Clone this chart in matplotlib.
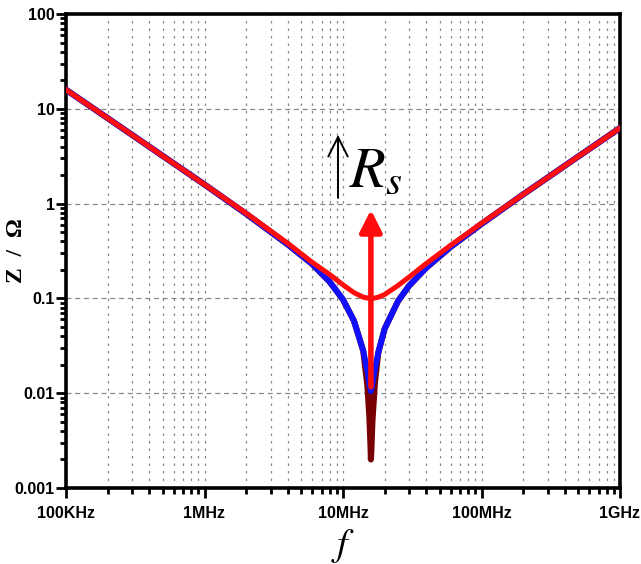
import matplotlib
matplotlib.use('Agg')
import matplotlib.pyplot as plt

# frequency points (Hz) and impedance magnitudes (ohm)
freq = [1e5, 2e5, 5e5, 1e6, 2e6, 4e6, 6e6, 8e6, 1e7, 1.2e7, 1.4e7, 1.5e7, 1.55e7,
        1.58e7, 1.59e7, 1.6e7, 1.63e7, 1.7e7, 1.8e7, 2e7, 2.5e7, 3e7, 4e7, 6e7,
        1e8, 2e8, 5e8, 1e9]
z_red = [15.9, 7.96, 3.18, 1.59, 0.79, 0.38, 0.24, 0.179, 0.139, 0.115, 0.103, 0.101, 0.100,
         0.100, 0.100, 0.100, 0.100, 0.101, 0.103, 0.110, 0.137, 0.168, 0.234, 0.364,
         0.62, 1.25, 3.14, 6.28]
z_blue = [15.9, 7.96, 3.18, 1.59, 0.78, 0.37, 0.23, 0.15, 0.097, 0.058, 0.028, 0.017, 0.0125,
          0.011, 0.0105, 0.011, 0.0125, 0.018, 0.027, 0.048, 0.094, 0.136, 0.211, 0.35,
          0.61, 1.25, 3.14, 6.28]
z_dark = [15.9, 7.96, 3.18, 1.59, 0.78, 0.37, 0.23, 0.15, 0.097, 0.058, 0.028, 0.012, 0.0057,
          0.0028, 0.002, 0.0024, 0.005, 0.013, 0.027, 0.048, 0.094, 0.136, 0.211, 0.35,
          0.61, 1.25, 3.14, 6.28]

rs_freq = 1.59e7
rs_lo, rs_hi = 0.0117, 0.86

xticks = [1e5, 1e6, 1e7, 1e8, 1e9]
xlabels = ['100KHz', '1MHz', '10MHz', '100MHz', '1GHz']
yticks = [1e-3, 1e-2, 1e-1, 1, 10, 100]
ylabels = ['0.001', '0.01', '0.1', '1', '10', '100']

plt.rcParams['mathtext.fontset'] = 'stix'
tickfont = 'Liberation Sans'

fig = plt.figure(figsize=(6.41, 5.64), dpi=100)
ax = fig.add_axes([66/641, 1-488/564, 554/641, 474/564])
ax.set_xscale('log')
ax.set_yscale('log')
ax.set_xlim(1e5, 1e9)
ax.set_ylim(1e-3, 100)

ax.plot(freq, z_dark, color='#780000', lw=4.4, zorder=3)
ax.plot(freq, z_blue, color='#1010ff', lw=4.2, zorder=4)
ax.plot(freq, z_red, color='#ff0d0d', lw=3.6, zorder=5)

ax.annotate('', xy=(rs_freq, rs_hi), xytext=(rs_freq, rs_lo),
            arrowprops=dict(arrowstyle='-|>,head_length=0.65,head_width=0.33',
                            mutation_scale=20, color='#ff0d0d', lw=4,
                            shrinkA=0, shrinkB=0), zorder=6)

# "↑ Rs" label
ax.annotate('', xy=(0.491, 0.745), xytext=(0.491, 0.612), xycoords='axes fraction',
            arrowprops=dict(arrowstyle='->,head_length=0.7,head_width=0.35',
                            mutation_scale=20, color='black', lw=1.4,
                            shrinkA=0, shrinkB=0))
ax.text(0.510, 0.635, r'$R_s$', transform=ax.transAxes, fontsize=42,
        ha='left', va='baseline')

ax.grid(which='major', axis='y', color='#888888', lw=0.9, linestyle=(0, (4, 3)))
ax.grid(which='both', axis='x', color='#888888', lw=0.9, linestyle=(0, (2, 4)))

ax.set_xticks(xticks)
ax.set_xticklabels(xlabels, fontweight='bold', fontsize=11.5, family=tickfont)
ax.set_yticks(yticks)
ax.set_yticklabels(ylabels, fontweight='bold', fontsize=11.5, family=tickfont)
ax.tick_params(which='major', direction='out', length=7, width=2, pad=1)
ax.tick_params(which='minor', direction='out', length=4, width=2)
ax.tick_params(axis='x', which='major', pad=6)
for s in ax.spines.values():
    s.set_linewidth(2.6)

ax.set_ylabel('Z  /  Ω', family='Liberation Serif', fontweight='bold', fontsize=17)
ax.yaxis.set_label_coords(-0.07, 0.50)
ax.set_xlabel(r'$f$', fontsize=28, labelpad=4)

fig.savefig('out.png', dpi=100)
